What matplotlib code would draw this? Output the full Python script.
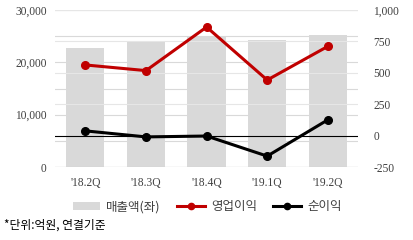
import matplotlib.pyplot as plt
from matplotlib.patches import Patch
from matplotlib.lines import Line2D

plt.rcParams['font.family'] = ['Noto Sans CJK KR', 'DejaVu Sans']

quarters = ["'18.2Q", "'18.3Q", "'18.4Q", "'19.1Q", "'19.2Q"]
sales = [22700, 24000, 25000, 24300, 25200]
op_profit = [563, 518, 865, 443, 711]
net_income = [38, -10, -3, -163, 126]

left_ticks = [0, 10000, 20000, 30000]
right_ticks = [-250, 0, 250, 500, 750, 1000]

serif = 'Liberation Serif'

fig = plt.figure(figsize=(4.14, 2.4), dpi=100)
ax = fig.add_axes([0.133, 0.304, 0.732, 0.654])
ax2 = ax.twinx()

x = range(len(quarters))

# 그리드 (좌축 5,000 간격 / 우축 250 간격)
for v in range(0, 30001, 5000):
    ax.axhline(v, color='#d9d9d9', lw=0.8, zorder=0)
ax.bar(x, sales, width=0.63, color='#d9d9d9', zorder=1)
ax.set_ylim(0, 30000)
ax.set_xlim(-0.5, 4.5)
ax.set_yticks(left_ticks)
ax.set_yticklabels(['{:,}'.format(v) for v in left_ticks], family=serif, fontsize=8.3, color='#404040')
ax.set_xticks(list(x))
ax.set_xticklabels(quarters, family=serif, fontsize=8.3, color='#404040')
ax.tick_params(length=0, pad=6)
ax.tick_params(axis='x', pad=7)

for v in right_ticks:
    if v == 0:
        continue
    ax2.axhline(v, color='#e6e6e6', lw=0.8, zorder=0)
ax2.axhline(0, color='black', lw=0.8, zorder=1)
ax2.plot(x, op_profit, color='#c00000', lw=2.2, marker='o', ms=5.5, zorder=3)
ax2.plot(x, net_income, color='black', lw=2.2, marker='o', ms=5.5, zorder=3)
ax2.set_ylim(-250, 1000)
ax2.set_yticks(right_ticks)
ax2.set_yticklabels(['{:,}'.format(v) for v in right_ticks], family=serif, fontsize=8.3, color='#404040')
ax2.tick_params(length=0, pad=11)

for a in (ax, ax2):
    for s in a.spines.values():
        s.set_visible(False)
ax.axhline(0, color='#bfbfbf', lw=0.8, zorder=2)

handles = [
    Patch(facecolor='#d9d9d9', edgecolor='none'),
    Line2D([], [], color='#c00000', lw=2.2, marker='o', ms=4.5),
    Line2D([], [], color='black', lw=2.2, marker='o', ms=4.5),
]
fig.legend(handles, ['매출액(좌)', '영업이익', '순이익'], loc='center',
           bbox_to_anchor=(0.5, 0.138), ncol=3, frameon=False, fontsize=9,
           handlelength=2.2, columnspacing=1.3, handletextpad=0.5,
           labelcolor='#404040')

fig.text(0.01, 0.048, '*단위:억원, 연결기준', fontsize=8.5, color='black')

fig.savefig('out.png', dpi=100)
